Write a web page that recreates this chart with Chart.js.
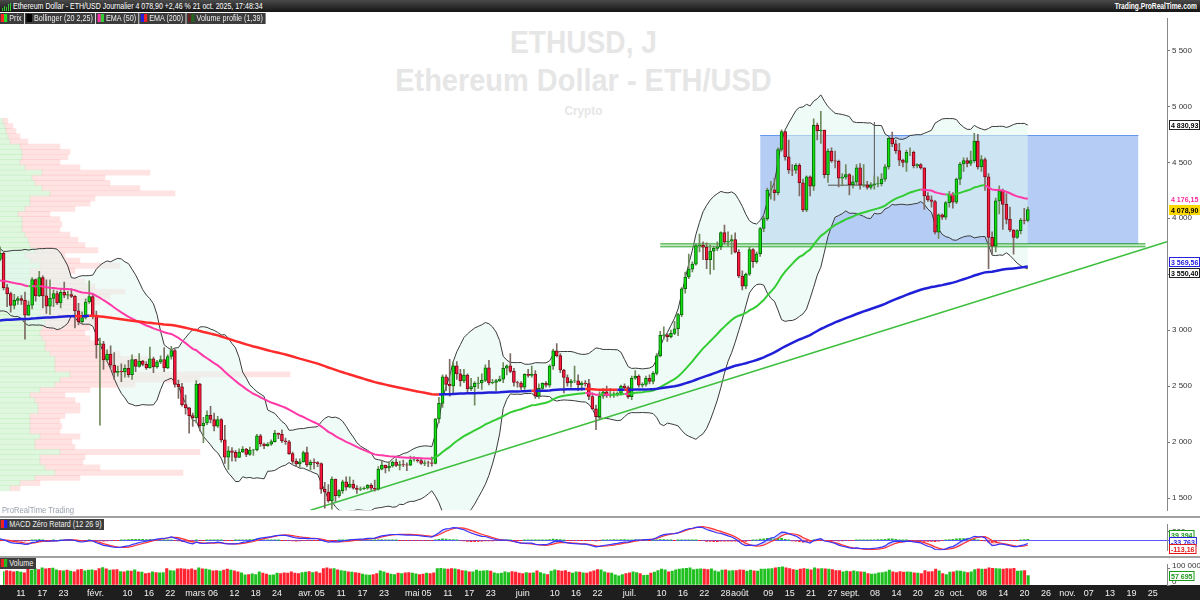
<!DOCTYPE html>
<html>
<head>
<meta charset="utf-8">
<script src="https://cdn.jsdelivr.net/npm/chart.js@4.4.1/dist/chart.umd.min.js"></script>
<style>
  body { margin:0; width:1200px; height:600px; overflow:hidden; background:#fff; position:relative;
         font-family:"Liberation Sans",sans-serif; }
  canvas { position:absolute; left:0; }
  #profile { top:12px; z-index:1; }
  #main { top:12px; z-index:2; }
  #macd { top:518px; z-index:2; }
  #vol { top:558px; z-index:2; }
  .wm { position:absolute; left:0; width:1167px; text-align:center; color:#e6e6e6; font-weight:bold; white-space:nowrap; z-index:0;
        transform-origin:583px 0; }
  #topbar { position:absolute; left:0; top:0; width:1200px; height:12px; background:linear-gradient(#4a4a4a,#151515); color:#fff; font-size:9px; line-height:12px; z-index:5; }
  #topbar .l { position:absolute; left:13px; white-space:nowrap; transform:scaleX(0.78); transform-origin:0 0; }
  #topbar .r { position:absolute; right:3px; font-weight:bold; white-space:nowrap; transform:scaleX(0.74); transform-origin:100% 0; }
  .ico { position:absolute; left:2px; top:3px; width:9px; height:8px; }
  .ico i { position:absolute; bottom:0; width:1px; background:#3c3; }
  .legrow { position:absolute; left:0; display:flex; gap:1px; z-index:5; transform:scaleX(0.8); transform-origin:0 0; }
  .leg { height:11px; background:#3c3c3c; color:#eee; font-size:9px; line-height:11px; white-space:nowrap; padding-right:3px; }
  .sw { display:inline-block; width:4px; height:8px; vertical-align:-1px; }
  .sep { position:absolute; left:0; width:1200px; height:2px; background:#a0a0a0; z-index:4; }
  #axisbar { position:absolute; left:0; top:585px; width:1200px; height:15px; background:#1e1e1e; z-index:1; }
  #prt { position:absolute; left:2px; top:505px; font-size:9px; color:#9aa4b0; z-index:3; white-space:nowrap; transform:scaleX(0.85); transform-origin:0 0; }
</style>
</head>
<body>
<div id="topbar">
  <div class="ico"><i style="left:0;height:3px"></i><i style="left:2px;height:5px"></i><i style="left:4px;height:4px"></i><i style="left:6px;height:7px"></i><i style="left:8px;height:8px"></i></div>
  <span class="l">Ethereum Dollar - ETH/USD Journalier 4 078,90 +2,46 % 21 oct. 2025, 17:48:34</span>
  <span class="r">Trading.ProRealTime.com</span>
</div>
<div class="legrow" style="top:13px">
  <div class="leg"><span class="sw" style="background:#f22;margin-left:1px"></span><span class="sw" style="background:#2d2"></span> Prix</div>
  <div class="leg"><span class="sw" style="background:#000;width:7px;margin-left:2px"></span> Bollinger (20 2,25)</div>
  <div class="leg"><span class="sw" style="background:#f3a;margin-left:2px"></span><span class="sw" style="background:#3c3"></span> EMA (50)</div>
  <div class="leg"><span class="sw" style="background:#22d;margin-left:2px"></span><span class="sw" style="background:#e22"></span> EMA (200)</div>
  <div class="leg"><span class="sw" style="background:#622;margin-left:2px"></span><span class="sw" style="background:#262"></span> Volume profile (1,39)</div>
</div>

<div class="wm" style="top:24px;font-size:32px;transform:scaleX(0.88)">ETHUSD, J</div>
<div class="wm" style="top:62px;font-size:32px;transform:scaleX(0.905)">Ethereum Dollar - ETH/USD</div>
<div class="wm" style="top:103px;font-size:13px;transform:scaleX(0.9)">Crypto</div>
<div id="prt">ProRealTime Trading</div>

<canvas id="profile" width="1167" height="505"></canvas>
<canvas id="main" width="1200" height="505"></canvas>
<div class="sep" style="top:516px"></div>
<canvas id="macd" width="1200" height="39"></canvas>
<div class="sep" style="top:556px"></div>
<div id="axisbar"></div>
<canvas id="vol" width="1200" height="42"></canvas>
<div class="legrow" style="top:519px">
  <div class="leg"><span class="sw" style="background:#e22;margin-left:1px"></span><span class="sw" style="background:#22e"></span> MACD Zéro Retard (12 26 9)</div>
</div>
<div class="legrow" style="top:558px">
  <div class="leg"><span class="sw" style="background:#e22;margin-left:1px"></span><span class="sw" style="background:#2b2"></span> Volume</div>
</div>

<script>
// ---- données (ETH/USD journalier) ----
const firstDay = '2025-01-06';
const dayCount = 328;               // jusqu'au 29 nov. 2025

// clôtures du 20 nov. au 5 janv. (calcul des indicateurs)
const warmupCloses = [3070,3355,3325,3395,3360,3415,3320,3650,3580,3590,3705,
  3710,3645,3615,3830,3790,4000,3995,4005,3715,3630,3835,3880,3905,3875,3960,3985,3870,3625,3420,3475,3330,3281,3420,3492,3479,3330,3332,3398,3350,3355,3333,
  3353,3451,3604,3656,3633];

const closes = [
  3687,3380,3327,3221,3266,3283,3266,3134,3224,3453,3307,3470,3306,3214,3284,3326,3244,3339,3312,3318,3302,3173,3077,3113,3252,3300,
  3125,2869,2878,2734,2786,2687,2623,2632,2627,2660,2603,2737,2676,2724,2694,2663,2743,2672,2716,2738,2662,2765,2818,2515,2494,2334,2305,2237,
  2218,2518,2147,2170,2240,2202,2142,2202,2020,1865,1922,1908,1863,1911,1937,1889,1928,1931,2055,1983,1967,1982,2004,2080,2068,2010,2003,1896,1828,1805,1823,
  1905,1795,1818,1816,1807,1580,1554,1473,1670,1521,1566,1644,1596,1624,1588,1577,1583,1587,1614,1587,1578,1757,1794,1768,1786,1820,1792,1799,1797,1793,
  1840,1841,1834,1808,1815,1814,1810,2207,2346,2582,2515,2502,2681,2610,2547,2598,2478,2495,2524,2528,2551,2664,2528,2534,2549,2563,2660,2682,2632,2532,2528,
  2490,2605,2596,2608,2412,2480,2525,2508,2680,2815,2772,2644,2577,2528,2546,2548,2511,2527,2523,2407,2296,2227,2411,2448,2417,2420,2430,2436,2501,2486,
  2406,2570,2590,2508,2516,2570,2542,2614,2770,2953,2959,2943,2972,3013,3139,3370,3475,3545,3590,3755,3761,3743,3631,3706,3731,3745,3873,3787,3795,3809,3697,
  3484,3394,3500,3721,3613,3683,3909,3997,4253,4255,4230,4615,4775,4550,4432,4430,4473,4318,4075,4370,4288,4830,4782,4788,4390,4600,4513,4510,4358,4368,4390,
  4300,4325,4450,4298,4300,4275,4300,4308,4310,4350,4460,4715,4665,4605,4520,4500,4590,4590,4470,4480,4450,4200,4165,4150,3875,4030,4010,4140,4215,4145,
  4350,4485,4515,4490,4515,4690,4460,4525,4370,3830,3750,4155,4245,4125,3990,3895,3830,3890,3985,3981,4078.9
];
const highs = [
  3745,3700,3410,3340,3320,3300,3310,3340,3260,3470,3460,3525,3485,3450,3450,3360,3350,3360,3430,3350,3370,3310,3240,3165,3280,3440,
  3330,3170,2930,2900,2825,2860,2800,2680,2700,2690,2730,2780,2740,2790,2730,2720,2850,2760,2730,2770,2845,2780,2855,2830,2555,2525,2420,2310,
  2260,2550,2525,2220,2280,2320,2260,2230,2210,2150,1960,1950,1925,1940,1960,1945,1955,1935,2070,2070,1990,1995,2020,2105,2080,2110,2035,2015,1910,1850,1850,
  1920,1955,1840,1850,1825,1815,1640,1620,1690,1670,1575,1660,1690,1690,1660,1610,1600,1600,1620,1630,1660,1780,1830,1790,1825,1830,1850,1830,1840,1815,
  1875,1870,1850,1845,1835,1830,1865,2210,2400,2600,2600,2740,2720,2720,2650,2650,2610,2570,2540,2580,2610,2690,2730,2560,2560,2590,2710,2690,2790,2660,2545,
  2540,2610,2650,2680,2640,2520,2530,2540,2690,2830,2880,2790,2650,2600,2560,2680,2600,2540,2550,2560,2440,2330,2450,2480,2500,2480,2450,2450,2510,2520,
  2500,2590,2640,2600,2530,2590,2600,2630,2790,2990,3030,2970,3000,3080,3150,3380,3520,3680,3610,3770,3860,3790,3780,3760,3750,3790,3880,3940,3880,3850,3870,
  3720,3530,3510,3740,3730,3700,3920,4020,4270,4330,4360,4630,4790,4780,4700,4480,4490,4490,4350,4380,4380,4890,4850,4956,4780,4620,4630,4600,4520,4400,4480,
  4400,4380,4480,4490,4480,4330,4320,4380,4370,4400,4480,4720,4770,4700,4670,4530,4610,4630,4600,4490,4490,4450,4230,4200,4160,4040,4040,4150,4240,4230,
  4360,4500,4540,4540,4600,4760,4750,4560,4540,4400,3880,4180,4290,4260,4220,4100,3900,3900,4000,4090,4100
];
const lows = [
  3620,3360,3210,3160,3190,3230,3230,2920,3130,3190,3260,3300,3200,3150,3140,3210,3230,3200,3290,3280,3290,3020,3050,3060,3100,3240,
  3100,2750,2150,2650,2720,2660,2560,2590,2540,2580,2580,2560,2630,2670,2680,2650,2660,2620,2660,2700,2630,2655,2740,2490,2390,2320,2250,2080,
  2140,2170,2100,1995,2155,2170,2100,2130,2000,1810,1755,1830,1830,1860,1905,1870,1880,1880,1920,1960,1940,1960,1970,2000,2030,1995,1980,1890,1810,1780,1775,
  1820,1780,1750,1760,1780,1540,1410,1460,1400,1470,1505,1540,1570,1590,1580,1540,1565,1575,1580,1570,1560,1570,1750,1725,1740,1775,1780,1750,1780,1745,
  1790,1830,1820,1800,1790,1780,1785,1805,2170,2310,2460,2410,2430,2560,2500,2530,2440,2460,2330,2480,2470,2540,2510,2520,2460,2540,2530,2600,2620,2500,2490,
  2470,2470,2580,2580,2390,2390,2470,2490,2490,2650,2760,2620,2440,2500,2490,2530,2460,2460,2500,2380,2290,2110,2200,2390,2400,2400,2400,2410,2420,2460,
  2390,2380,2560,2490,2490,2500,2520,2520,2600,2760,2920,2900,2930,2960,2950,3120,3330,3460,3520,3580,3700,3630,3550,3500,3540,3710,3720,3770,3750,3680,3690,
  3470,3360,3370,3490,3560,3600,3660,3880,3980,4170,4160,4210,4600,4520,4400,4380,4400,4200,4060,4060,4200,4250,4700,4670,4360,4320,4500,4450,4280,4290,4350,
  4210,4270,4300,4260,4280,4260,4260,4260,4280,4290,4330,4440,4640,4580,4470,4460,4420,4560,4450,4450,4440,4080,4150,4100,3860,3820,3990,3990,4100,4090,
  4130,4300,4420,4460,4470,4500,4440,4420,4250,3550,3680,3700,4040,3900,3950,3880,3680,3820,3860,3950,3970
];
// volumes en milliers
const volumeThousands = [
  82,88,84,80,83,78,74,96,90,100,94,104,98,102,103,92,88,86,90,84,80,92,95,86,90,92,
  88,100,106,98,90,92,94,82,80,86,84,92,80,78,70,72,80,76,74,76,100,88,86,98,100,96,94,98,
  90,104,98,96,92,86,88,84,90,96,90,86,80,74,62,64,68,64,80,72,66,60,62,72,70,74,72,80,72,70,76,
  78,82,76,80,72,100,104,98,100,92,88,84,80,78,76,72,66,62,60,64,70,86,80,72,66,64,72,70,74,76,
  72,68,64,66,72,70,74,100,102,98,96,100,98,94,88,86,80,80,90,84,86,88,84,74,70,72,80,76,82,78,72,
  70,76,72,74,86,76,68,64,84,92,88,84,88,78,72,80,78,74,72,80,86,94,92,80,74,72,62,56,64,70,
  74,80,76,70,58,60,72,78,88,96,92,80,84,92,96,100,102,104,94,96,98,96,94,98,86,80,90,92,86,88,88,
  92,90,84,90,86,84,96,96,98,100,104,108,110,104,100,94,90,96,100,96,92,104,98,100,98,96,94,88,88,80,84,
  82,86,82,80,78,70,66,68,74,76,80,90,80,76,82,78,80,78,74,72,70,88,80,82,96,86,70,64,78,80,
  86,84,80,76,80,94,98,96,96,104,102,100,98,96,100,98,102,84,86,88,57.695
];
const ema50Start = 3443;
const ema200Start = 3087;

const priceTicks = [1500,2000,2500,3000,3500,4000,4500,5000,5500];
const xTickDates = ['2025-01-11','2025-01-17','2025-01-23','2025-02-01','2025-02-10','2025-02-16','2025-02-22',
  '2025-03-01','2025-03-06','2025-03-12','2025-03-18','2025-03-24','2025-04-01','2025-04-05','2025-04-11','2025-04-17','2025-04-23',
  '2025-05-01','2025-05-05','2025-05-11','2025-05-17','2025-05-23','2025-06-01','2025-06-10','2025-06-16','2025-06-22',
  '2025-07-01','2025-07-10','2025-07-16','2025-07-22','2025-07-28','2025-08-01','2025-08-09','2025-08-15','2025-08-21','2025-08-27',
  '2025-09-01','2025-09-08','2025-09-14','2025-09-20','2025-09-26','2025-10-01','2025-10-08','2025-10-14','2025-10-20','2025-10-26',
  '2025-11-01','2025-11-07','2025-11-13','2025-11-19','2025-11-25'];
const xTickTexts = ['11','17','23','févr.','10','16','22','mars','06','12','18','24','avr.','05','11','17','23',
  'mai','05','11','17','23','juin','10','16','22','juil.','10','16','22','28','août','09','15','21','27',
  'sept.','08','14','20','26','oct.','08','14','20','26','nov.','07','13','19','25'];

// profil de volume (par tranche de 50 $)
const profilePrices = [1425,1475,1525,1575,1625,1675,1725,1775,1825,1875,1925,1975,2025,2075,2125,2175,2225,2275,2325,2375,
  2425,2475,2525,2575,2625,2675,2725,2775,2825,2875,2925,2975,3025,3075,3125,3175,3225,3275,3325,3375,
  3425,3475,3525,3575,3625,3675,3725,3775,3825,3875,3925,3975,4025,4075,4125,4175,4225,4275,4325,4375,
  4425,4475,4525,4575,4625,4675,4725,4775,4825,4875,4925,4975];
const profileUp = [10,20,35,55,45,40,40,60,35,35,40,30,30,30,30,38,38,35,30,40,
  55,60,70,55,55,55,50,45,45,42,40,42,45,45,40,42,45,45,50,42,
  38,30,30,40,30,25,35,30,28,25,22,22,22,18,25,30,30,50,42,35,
  32,42,25,20,22,22,20,10,8,6,5,3];
const profileDown = [10,20,45,128,55,43,45,140,40,37,40,30,32,30,35,42,42,40,35,50,
  80,140,220,75,85,95,70,55,50,48,45,48,50,55,45,48,55,65,75,53,
  47,40,45,80,50,40,63,55,50,45,38,40,38,32,50,60,65,125,98,75,
  73,108,55,40,46,48,40,18,12,10,8,5];

// tracés
const zoneDates = ['2025-08-07','2025-11-21'];
const zonePrices = [4740, 3775];
const bandDates = ['2025-07-10','2025-11-23'];
const bandPrices = [3772, 3745];
const trendDates = ['2025-04-03','2025-11-29'];
const trendPrices = [1391, 3791];
const markDates = ['2025-08-26','2025-09-08','2025-09-08'];
const markPrices = [4296, 4296, 4861];

// ---- préparation ----
const dates = [];
for (let i = 0; i < dayCount; i++) {
  const d = new Date(firstDay + 'T00:00:00Z');
  d.setUTCDate(d.getUTCDate() + i);
  dates.push(d.toISOString().slice(0, 10));
}
const tickMap = {};
xTickDates.forEach((d, i) => tickMap[d] = xTickTexts[i]);

const opens = closes.map((c, i) => i === 0 ? warmupCloses[warmupCloses.length - 1] : closes[i - 1]);
const isUp = closes.map((c, i) => c >= opens[i]);
const bodies = closes.map((c, i) => [opens[i], c]);
const wicks = closes.map((c, i) => [Math.min(lows[i], opens[i], c), Math.max(highs[i], opens[i], c)]);

function emaSeries(vals, n, seed) {
  const k = 2 / (n + 1);
  let e = seed === undefined ? vals[0] : seed;
  return vals.map((v, i) => i === 0 ? e : (e = e + k * (v - e)));
}
function zlema(vals, n) {
  const e1 = emaSeries(vals, n), e2 = emaSeries(e1, n);
  return e1.map((v, i) => 2 * v - e2[i]);
}
const ema50 = emaSeries(closes, 50, ema50Start);
const ema200 = emaSeries(closes, 200, ema200Start);

const allCloses = warmupCloses.concat(closes);
const W = warmupCloses.length;
const bbUpper = [], bbLower = [];
closes.forEach((c, i) => {
  const win = allCloses.slice(W + i - 19, W + i + 1);
  const m = win.reduce((a, b) => a + b, 0) / win.length;
  const sd = Math.sqrt(win.reduce((a, b) => a + (b - m) * (b - m), 0) / win.length);
  bbUpper.push(m + 2.25 * sd);
  bbLower.push(m - 2.25 * sd);
});

const z12 = zlema(allCloses, 12), z26 = zlema(allCloses, 26);
const macdAll = z12.map((v, i) => v - z26[i]);
const sigAll = zlema(macdAll, 9);
const macdLine = macdAll.slice(W);
const signalLine = sigAll.slice(W);
const histo = macdLine.map((v, i) => (v - signalLine[i]) / 2);

const fmt = v => String(v).replace(/\B(?=(\d{3})+(?!\d))/g, ' ');
const FONT = '"Liberation Sans",sans-serif';
Chart.defaults.font.family = FONT;
Chart.defaults.animation = false;

// étiquettes de valeur à droite de l'axe
const tagPlugin = {
  id: 'tags',
  afterDraw(chart, args, opts) {
    if (!opts.items) return;
    const ctx = chart.ctx, ys = chart.scales.y, x0 = chart.chartArea.right + 1;
    const h = 10, gap = opts.gap || 11, sx = 0.88;
    const list = opts.items.map(t => Object.assign({}, t, { py: ys.getPixelForValue(t.value) }));
    list.sort((a, b) => a.py - b.py);
    for (let pass = 0; pass < 6; pass++) {
      for (let i = 1; i < list.length; i++) {
        const d = list[i].py - list[i - 1].py;
        if (d < gap) { const m = (gap - d) / 2; list[i].py += m; list[i - 1].py -= m; }
      }
    }
    ctx.save();
    ctx.font = 'bold 8px ' + FONT;
    ctx.textBaseline = 'middle';
    list.forEach(t => {
      const w = Math.min(ctx.measureText(t.text).width * sx + 4, 1199 - x0);
      const top = Math.round(t.py - h / 2);
      ctx.fillStyle = t.bg;
      ctx.fillRect(x0 + 1, top, w, h);
      if (t.border) {
        ctx.strokeStyle = t.border; ctx.lineWidth = 1;
        ctx.strokeRect(x0 + 1.5, top + 0.5, w - 1, h - 1);
      }
      ctx.save();
      ctx.translate(x0 + 3, Math.round(t.py) + 0.5);
      ctx.scale(sx, 1);
      ctx.fillStyle = t.color;
      ctx.fillText(t.text, 0, 0);
      ctx.restore();
    });
    ctx.restore();
  }
};

const rightAxis = (min, max, ticks, labeler, extra) => Object.assign({
  position: 'right', min: min, max: max,
  afterFit: s => { s.width = 33; },
  afterBuildTicks: s => { s.ticks = ticks.map(v => ({ value: v })); },
  ticks: { color: '#333', font: { size: 8 }, padding: 2, callback: labeler },
  grid: { drawOnChartArea: false, tickLength: 3, color: '#777' },
  border: { color: '#888' }
}, extra || {});

const hiddenX = { type: 'category', offset: false, display: false, grid: { display: false } };
const basePlugins = { legend: { display: false }, tooltip: { enabled: false } };

// ---- profil de volume (fond) ----
new Chart(document.getElementById('profile'), {
  type: 'bar',
  data: {
    datasets: [
      { data: profilePrices.map((p, i) => ({ x: profileUp[i], y: p })), backgroundColor: 'rgba(40,200,40,0.15)',
        barPercentage: 1, categoryPercentage: 1, borderWidth: 0 },
      { data: profilePrices.map((p, i) => ({ x: profileDown[i], y: p })), backgroundColor: 'rgba(255,60,60,0.14)',
        barPercentage: 1, categoryPercentage: 1, borderWidth: 0 }
    ]
  },
  options: {
    indexAxis: 'y', responsive: false, events: [], layout: { padding: 0 },
    plugins: basePlugins,
    scales: {
      x: { type: 'linear', min: 0, max: 1167, stacked: true, display: false },
      y: { type: 'linear', min: 1391, max: 5783, stacked: true, display: false }
    }
  }
});

// ---- graphique principal ----
const pts = (ds, ps) => ds.map((d, i) => ({ x: d, y: ps[i] }));
const lineBase = { type: 'line', pointRadius: 0, borderWidth: 1, fill: false, spanGaps: true };

new Chart(document.getElementById('main'), {
  type: 'bar',
  data: {
    labels: dates,
    datasets: [
      Object.assign({}, lineBase, { label: 'EMA 200', data: ema200, order: 0, borderWidth: 2.5, borderColor: '#2020d8',
        segment: { borderColor: c => c.p1.parsed.y < c.p0.parsed.y ? '#ff2a2a' : '#2020d8' } }),
      Object.assign({}, lineBase, { label: 'EMA 50', data: ema50, order: 0, borderWidth: 2, borderColor: '#33cc33',
        segment: { borderColor: c => c.p1.parsed.y < c.p0.parsed.y ? '#ff3aa8' : '#33cc33' } }),
      { type: 'bar', label: 'Corps', data: bodies, order: 1, grouped: false, barThickness: 3,
        backgroundColor: isUp.map(u => u ? '#10e010' : '#ff1a40'),
        borderColor: isUp.map(u => u ? '#0a6a0a' : '#7a0a18'), borderWidth: 1, borderSkipped: false },
      { type: 'bar', label: 'Mèches', data: wicks, order: 2, grouped: false, barThickness: 1,
        backgroundColor: isUp.map(u => u ? '#6f8a5c' : '#7d6a62') },
      Object.assign({}, lineBase, { label: 'Tendance', data: pts(trendDates, trendPrices), order: 3, borderWidth: 1.5, borderColor: '#3fbf3f' }),
      Object.assign({}, lineBase, { label: 'Repère', data: pts(markDates, markPrices), order: 3, borderColor: '#555' }),
      Object.assign({}, lineBase, { label: 'Bande haut', data: pts(bandDates, [bandPrices[0], bandPrices[0]]), order: 3, borderColor: '#3aa83a' }),
      Object.assign({}, lineBase, { label: 'Bande bas', data: pts(bandDates, [bandPrices[1], bandPrices[1]]), order: 3, borderColor: '#3aa83a',
        fill: '-1', backgroundColor: 'rgba(120,210,120,0.45)' }),
      Object.assign({}, lineBase, { label: 'BB haut', data: bbUpper, order: 4, borderColor: '#3a3a3a' }),
      Object.assign({}, lineBase, { label: 'BB bas', data: bbLower, order: 4, borderColor: '#3a3a3a',
        fill: '-1', backgroundColor: 'rgba(225,247,240,0.55)' }),
      Object.assign({}, lineBase, { label: 'Zone haut', data: pts(zoneDates, [zonePrices[0], zonePrices[0]]), order: 5, borderColor: 'rgba(70,130,230,0.8)' }),
      Object.assign({}, lineBase, { label: 'Zone bas', data: pts(zoneDates, [zonePrices[1], zonePrices[1]]), order: 5, borderColor: 'rgba(70,130,230,0.8)',
        fill: '-1', backgroundColor: 'rgba(70,130,230,0.40)' })
    ]
  },
  options: {
    responsive: false, events: [], layout: { padding: 0 },
    plugins: Object.assign({}, basePlugins, { tags: { gap: 11, items: [
      { value: 4830.93, text: '4 830,93', color: '#000', bg: '#fff', border: '#222' },
      { value: 4176.15, text: '4 176,15', color: '#ff2a9a', bg: '#fff' },
      { value: 4078.90, text: '4 078,90', color: '#000', bg: '#ffd800' },
      { value: 3569.56, text: '3 569,56', color: '#2323e0', bg: '#fff', border: '#2323e0' },
      { value: 3550.40, text: '3 550,40', color: '#000', bg: '#fff', border: '#222' }
    ] } }),
    scales: {
      x: hiddenX,
      y: rightAxis(1391, 5783, priceTicks, v => fmt(v))
    }
  },
  plugins: [tagPlugin]
});

// ---- MACD zéro retard ----
new Chart(document.getElementById('macd'), {
  type: 'bar',
  data: {
    labels: dates,
    datasets: [
      Object.assign({}, lineBase, { label: 'MACD', data: macdLine, order: 0, borderWidth: 1.2, borderColor: '#3535ff' }),
      Object.assign({}, lineBase, { label: 'Signal', data: signalLine, order: 1, borderWidth: 1.2, borderColor: '#ff3535',
        fill: { target: '-1', above: 'rgba(255,120,130,0.35)', below: 'rgba(120,130,255,0.35)' } }),
      { type: 'bar', label: 'Histogramme', data: histo, order: 2, grouped: false, barThickness: 2,
        backgroundColor: histo.map(v => v >= 0 ? '#22bb22' : '#ff2222') }
    ]
  },
  options: {
    responsive: false, events: [], layout: { padding: 0 },
    plugins: Object.assign({}, basePlugins, { tags: { gap: 7, items: [
      { value: 39.394, text: '39,394', color: '#1a9a1a', bg: '#fff', border: '#1a9a1a' },
      { value: -33.763, text: '-33,763', color: '#2323e0', bg: '#fff', border: '#2323e0' },
      { value: -113.16, text: '-113,16', color: '#e01a1a', bg: '#fff', border: '#e01a1a' }
    ] } }),
    scales: {
      x: hiddenX,
      y: rightAxis(-223, 346, [0, 200], v => v === 0 ? '' : fmt(v), {
        grid: { drawOnChartArea: true, tickLength: 3, tickColor: '#777',
                color: c => c.tick && c.tick.value === 0 ? '#5a5aff' : 'rgba(0,0,0,0)' } })
    }
  },
  plugins: [tagPlugin]
});

// ---- volume ----
new Chart(document.getElementById('vol'), {
  type: 'bar',
  data: {
    labels: dates,
    datasets: [
      { label: 'Volume', data: volumeThousands, barThickness: 2.4,
        backgroundColor: isUp.map(u => u ? '#1fc01f' : '#ff2230') }
    ]
  },
  options: {
    responsive: false, events: [], layout: { padding: 0 },
    plugins: Object.assign({}, basePlugins, { tags: { gap: 10, items: [
      { value: 57.695, text: '57 695', color: '#1a9a1a', bg: '#fff', border: '#1a9a1a' }
    ] } }),
    scales: {
      x: { type: 'category', offset: false, afterFit: s => { s.height = 15; },
           grid: { display: false, drawTicks: false, tickLength: 0 }, border: { display: false },
           ticks: { color: '#f0f0f0', font: { size: 9 }, padding: 3, autoSkip: false, maxRotation: 0,
                    callback: (v, i) => tickMap[dates[i]] || '' } },
      y: rightAxis(0, 122.7, [0, 100], v => fmt(v * 1000), { ticks: { color: '#333', font: { size: 8 }, padding: 2, labelOffset: -3,
           callback: v => fmt(v * 1000) } })
    }
  },
  plugins: [tagPlugin]
});
</script>
</body>
</html>
